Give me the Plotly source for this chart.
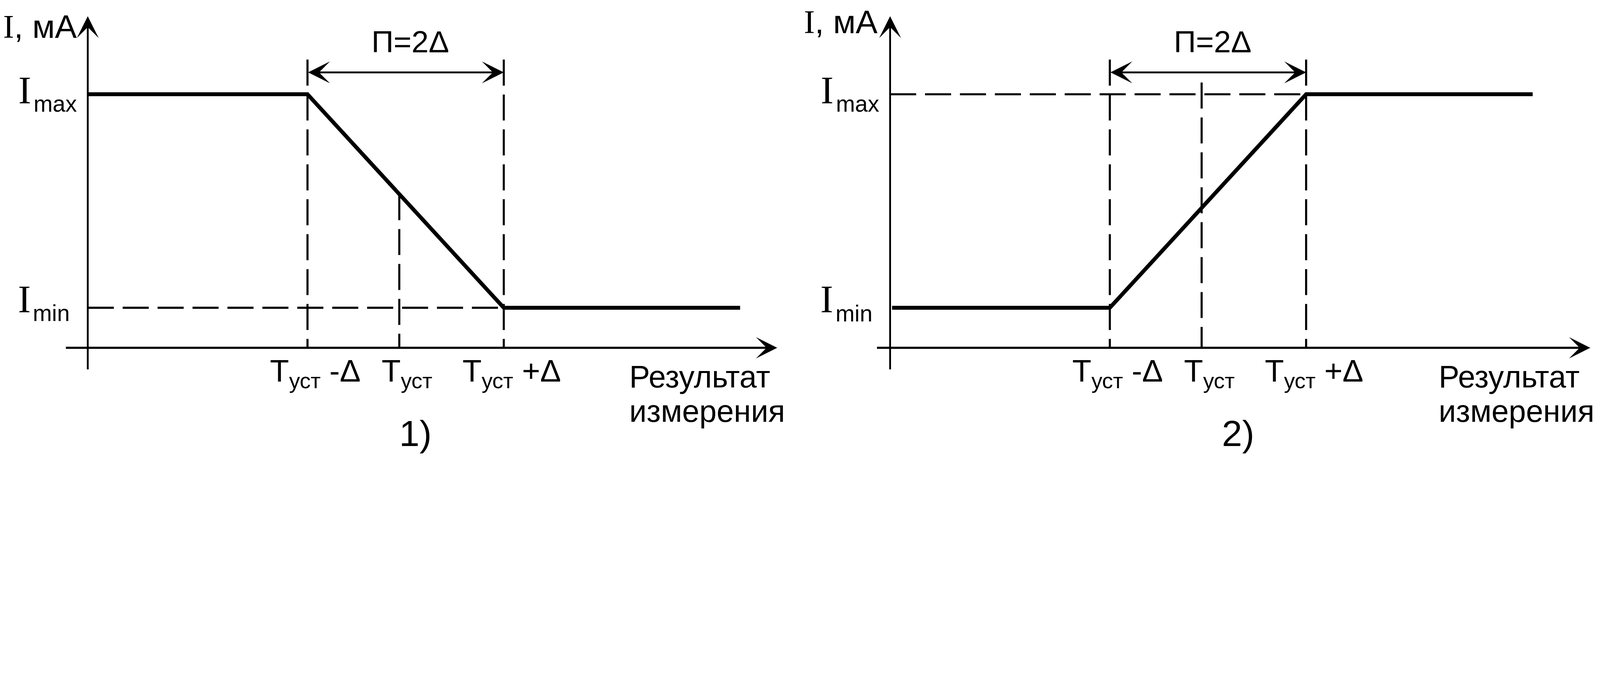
import numpy as np
import plotly.graph_objects as go

# screenshot size and the page scale (device pixel ratio, body margin)
W_IMG, H_IMG = 6147, 1759
DPR = 1.5
BODY = 8
W = round(W_IMG / DPR - 2 * BODY)
H = round(H_IMG / DPR - 2 * BODY) - 1

# current output, mA (schematic values)
I_MIN, I_MAX = 4.0, 20.0
I_AXIS = 1.0        # level of the horizontal axis
I_TOP = 25.85       # tip of the vertical axis arrow
I_BOTTOM = -0.66    # lower end of the vertical axis
I_DIM = 21.64       # dimension arrow "П=2Δ"
I_GUIDE = 22.6      # top of the extension lines
I_GUIDE2 = 20.88    # top of the Tуст line on the second panel

# measured result, in units of Δ from the vertical axis
x_ticks = [2.25, 3.19, 4.26]
tick_text = ["T<sub>уст</sub> -Δ", "T<sub>уст</sub>", "T<sub>уст</sub> +Δ"]

x1 = [0.0, x_ticks[0], x_ticks[2], 6.68]
y1 = [I_MAX, I_MAX, I_MIN, I_MIN]
x2 = [0.02, x_ticks[0], x_ticks[2], 6.58]
y2 = [I_MIN, I_MIN, I_MAX, I_MAX]

x_axis1 = (-0.23, 7.06)
x_axis2 = (-0.14, 7.17)

# calibration in screenshot pixels
PX_X = 375.0
PX_I = 51.25
ORG = [337, 3418]
IMAX_PX = 362

SANS = "Liberation Sans, Arial, sans-serif"
SERIF = "Liberation Serif, Times New Roman, serif"


def c(v):
    # screenshot pixels -> css pixels
    return v / DPR


DASH = f"{c(100):.1f}px,{c(34):.1f}px"

fig = go.Figure()


def line(xref, xs, ys, width, dash=None):
    fig.add_trace(go.Scatter(
        x=xs, y=ys, mode="lines", xaxis=xref, yaxis="y",
        line=dict(color="black", width=c(width), dash=dash),
        hoverinfo="skip", showlegend=False,
    ))


def arrow(xref, x0, y0, xe, ye, width, size, both=False):
    return dict(
        xref=xref, yref="y", axref=xref, ayref="y",
        x=xe, y=ye, ax=x0, ay=y0, text="", showarrow=True,
        arrowhead=3, arrowsize=size, arrowwidth=c(width), arrowcolor="black",
        startarrowhead=3, startarrowsize=size,
        arrowside="end+start" if both else "end",
    )


def label(px, base, text, size, family=SANS, anchor="left", ascent=0.905):
    top = base - ascent * size
    return dict(
        xref="paper", yref="paper",
        x=(c(px) - BODY) / W, y=1 - (c(top) - BODY) / H,
        xanchor=anchor, yanchor="top", text=text, showarrow=False,
        font=dict(family=family, size=c(size), color="black"),
        borderpad=0, borderwidth=0,
    )


ann = []
for k, (xr, xs, ys, xa) in enumerate([("x", x1, y1, x_axis1), ("x2", x2, y2, x_axis2)]):
    # guide lines
    if k == 0:
        line(xr, [0, x_ticks[2]], [I_MIN, I_MIN], 8, DASH)
        t_top = float(np.interp(x_ticks[1], xs, ys))
    else:
        line(xr, [0, x_ticks[2]], [I_MAX, I_MAX], 8, DASH)
        t_top = I_GUIDE2
    line(xr, [x_ticks[0], x_ticks[0]], [I_GUIDE, I_AXIS], 8, DASH)
    line(xr, [x_ticks[1], x_ticks[1]], [t_top, I_AXIS], 8, DASH)
    line(xr, [x_ticks[2], x_ticks[2]], [I_GUIDE, I_AXIS], 8, DASH)
    # characteristic
    line(xr, xs, ys, 15)

    # axes and dimension arrow
    ann.append(arrow(xr, 0, I_BOTTOM, 0, I_TOP, 7, 2.0))
    ann.append(arrow(xr, xa[0], I_AXIS, xa[1], I_AXIS, 8, 1.7))
    ann.append(arrow(xr, x_ticks[0], I_DIM, x_ticks[2], I_DIM, 7, 2.0, both=True))

    # tick labels under the axis
    for xv, tt in zip(x_ticks, tick_text):
        a = label(0, 1466, tt, 120, anchor="center")
        a.update(xref=xr, x=xv, xshift=c(30))
        ann.append(a)
    a = label(0, 201, "П=2Δ", 118, anchor="center")
    a.update(xref=xr, x=(x_ticks[0] + x_ticks[2]) / 2, xshift=c(18))
    ann.append(a)

# axis titles and level labels
ann += [
    label(12, 146, "<span style='font-family:Liberation Serif'>I</span>, мА", 126),
    label(3087, 128, "<span style='font-family:Liberation Serif'>I</span>, мА", 126),
    label(71, 396, "I", 148, SERIF, ascent=0.891),
    label(129, 429, "max", 88),
    label(69, 1198, "I", 148, SERIF, ascent=0.891),
    label(126, 1233, "min", 88),
    label(3151, 396, "I", 148, SERIF, ascent=0.891),
    label(3210, 429, "max", 88),
    label(3150, 1199, "I", 148, SERIF, ascent=0.891),
    label(3209, 1235, "min", 88),
    label(2416, 1487, "Результат", 119),
    label(2416, 1620, "измерения", 119),
    label(5525, 1487, "Результат", 119),
    label(5525, 1620, "измерения", 119),
    label(1595, 1713, "1)", 140, anchor="center"),
    label(4754, 1713, "2)", 140, anchor="center"),
]


def xrange(org, d0, d1):
    return [((c_px + BODY) * DPR - org) / PX_X for c_px in (d0 * W, d1 * W)]


top_px = BODY * DPR
bot_px = (H + BODY) * DPR
hidden = dict(visible=False, showgrid=False, zeroline=False, fixedrange=True)
fig.update_layout(
    width=W, height=H,
    margin=dict(l=0, r=0, t=0, b=0),
    paper_bgcolor="white", plot_bgcolor="white",
    showlegend=False,
    xaxis=dict(domain=[0, 0.5], range=xrange(ORG[0], 0, 0.5), **hidden),
    xaxis2=dict(domain=[0.5, 1], range=xrange(ORG[1], 0.5, 1), **hidden),
    yaxis=dict(domain=[0, 1],
               range=[I_MAX - (bot_px - IMAX_PX) / PX_I,
                      I_MAX + (IMAX_PX - top_px) / PX_I],
               **hidden),
    annotations=ann,
)

fig.write_html("out.html")
